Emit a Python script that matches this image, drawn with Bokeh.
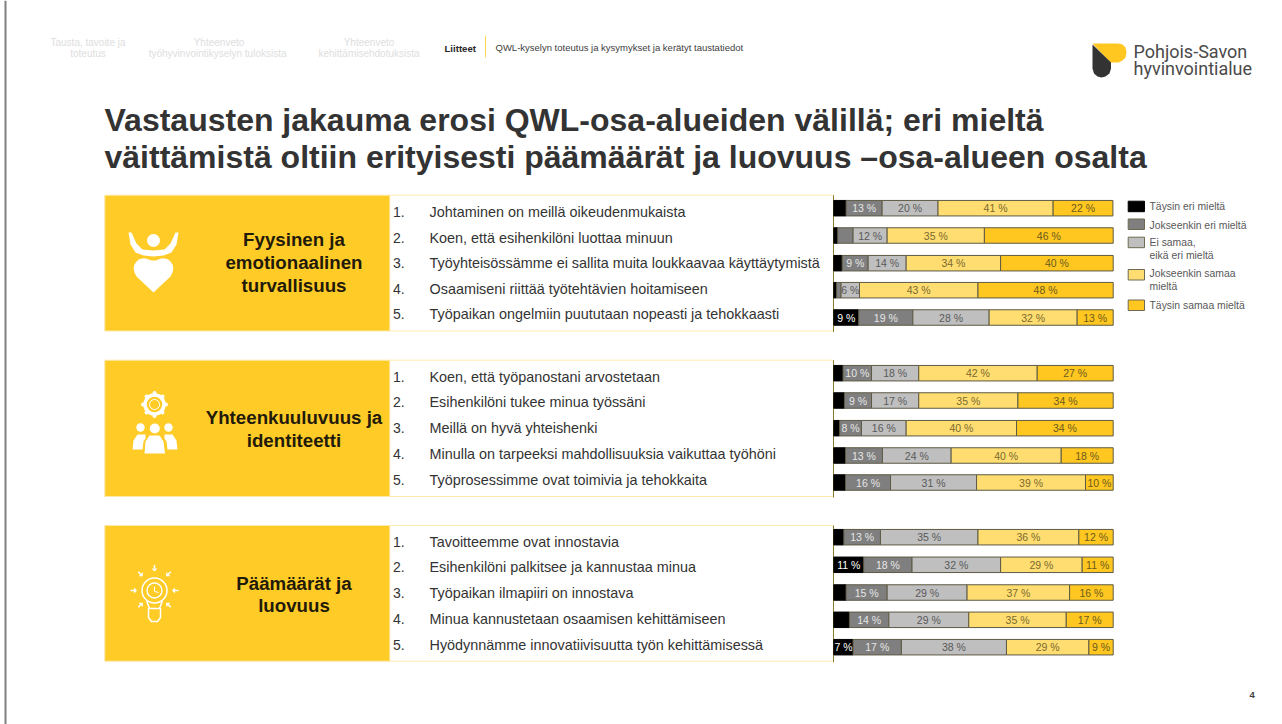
from bokeh.plotting import figure
from bokeh.models import Range1d, ColumnDataSource
from bokeh.core.properties import value
from bokeh.embed import file_html
from bokeh.resources import INLINE

W, H = 1282, 724

group_names = [["Fyysinen ja", "emotionaalinen", "turvallisuus"],
               ["Yhteenkuuluvuus ja", "identiteetti"],
               ["Päämäärät ja", "luovuus"]]

statements_1 = ["Johtaminen on meillä oikeudenmukaista", "Koen, että esihenkilöni luottaa minuun",
                "Työyhteisössämme ei sallita muita loukkaavaa käyttäytymistä",
                "Osaamiseni riittää työtehtävien hoitamiseen",
                "Työpaikan ongelmiin puututaan nopeasti ja tehokkaasti"]
statements_2 = ["Koen, että työpanostani arvostetaan", "Esihenkilöni tukee minua työssäni",
                "Meillä on hyvä yhteishenki", "Minulla on tarpeeksi mahdollisuuksia  vaikuttaa työhöni",
                "Työprosessimme  ovat toimivia ja tehokkaita"]
statements_3 = ["Tavoitteemme ovat innostavia", "Esihenkilöni palkitsee ja kannustaa minua",
                "Työpaikan ilmapiiri on innostava", "Minua kannustetaan osaamisen kehittämiseen",
                "Hyödynnämme  innovatiivisuutta työn kehittämisessä"]

values_1 = [[4.4, 12.9, 20.0, 41.2, 21.4], [1.4, 5.5, 12.2, 34.8, 46.1], [3.0, 9.3, 13.6, 33.8, 40.3],
            [1.0, 1.6, 6.6, 42.4, 48.4], [8.9, 19.4, 27.3, 31.5, 12.9]]
values_2 = [[3.3, 10.2, 16.9, 42.4, 27.2], [3.8, 9.7, 16.9, 35.5, 34.1], [2.1, 7.8, 16.0, 39.5, 34.6],
            [4.2, 13.2, 24.6, 39.4, 18.6], [4.2, 16.1, 30.8, 39.0, 9.9]]
values_3 = [[3.6, 13.1, 34.9, 36.1, 12.3], [10.7, 17.3, 31.7, 29.2, 11.1], [4.4, 14.7, 28.6, 36.7, 15.6],
            [5.6, 14.1, 28.6, 34.9, 16.8], [6.9, 17.3, 37.6, 29.5, 8.7]]

labels_1 = [[None, 13, 20, 41, 22], [None, None, 12, 35, 46], [None, 9, 14, 34, 40],
            [None, None, 6, 43, 48], [9, 19, 28, 32, 13]]
labels_2 = [[None, 10, 18, 42, 27], [None, 9, 17, 35, 34], [None, 8, 16, 40, 34],
            [None, 13, 24, 40, 18], [None, 16, 31, 39, 10]]
labels_3 = [[None, 13, 35, 36, 12], [11, 18, 32, 29, 11], [None, 15, 29, 37, 16],
            [None, 14, 29, 35, 17], [7, 17, 38, 29, 9]]

colors = ["#000000", "#7F7F7F", "#BFBFBF", "#FFDD71", "#FFC720"]
label_colors = ["#FFFFFF", "#E6E6E6", "#595959", "#7A6A2E", "#6B5A1E"]
legend_lines = [["Täysin eri mieltä"], ["Jokseenkin eri mieltä"], ["Ei samaa,", "eikä eri mieltä"],
                ["Jokseenkin samaa", "mieltä"], ["Täysin samaa mieltä"]]

FONT = value("Liberation Sans")
BAR_L, BAR_R = 833.3, 1112.7
unit = (BAR_R - BAR_L) / 100

p = figure(width=W, height=H, output_backend="svg", toolbar_location=None,
           x_range=Range1d(0, W), y_range=Range1d(H, 0), min_border=0,
           outline_line_color=None, background_fill_color="#FFFFFF")
p.axis.visible = False
p.grid.visible = False
p.extra_x_ranges["pct"] = Range1d(-BAR_L / unit, (W - BAR_L) / unit)


def txt(x, y, s, size, color="#262626", bold=False, align="left", font=FONT):
    p.text([x], [y], text=[s], text_font=font, text_font_size=f"{size}px", text_color=color,
           text_align=align, text_baseline="middle", text_font_style="bold" if bold else "normal")


def arrow(x, y, dx, dy, color="#FFFFFF"):
    nx, ny = -dy, dx
    p.line([x - dx * 2.5, x + dx], [y - dy * 2.5, y + dy], line_color=color, line_width=1.6)
    p.patch([x + dx * 4, x + dx + nx * 3, x + dx - nx * 3], [y + dy * 4, y + dy + ny * 3, y + dy - ny * 3],
            fill_color=color, line_color=None)


# page frame
p.line([5, 5], [0, H], line_color="#808080", line_width=2)

# header
for x, lines in [(87.5, ["Tausta, tavoite ja", "toteutus"]),
                 (218.5, ["Yhteenveto", "työhyvinvointikyselyn  tuloksista"]),
                 (368.5, ["Yhteenveto", "kehittämisehdotuksista"])]:
    for i, s in enumerate(lines):
        txt(x, 42 + i * 11, s, 10, "#DEDEDE", align="center")
txt(444, 47.5, "Liitteet", 9.6, "#262626", bold=True)
p.line([485, 485], [35, 57], line_color="#FFD75A", line_width=1)
txt(495, 47, "QWL-kyselyn toteutus ja kysymykset ja kerätyt taustatiedot", 9.5, "#404040")

# logo
p.patch([1092, 1118, 1122, 1125, 1126, 1125, 1122, 1118, 1110], [43, 43, 44, 47, 52, 57, 60, 62, 62],
        fill_color="#FFC720", line_color=None)
p.patch([1092, 1110.5, 1110.5, 1109, 1105, 1101, 1097, 1093.5, 1092],
        [44, 62, 68, 73, 76, 77, 76, 73, 68], fill_color="#333333", line_color=None)
txt(1133, 50.5, "Pohjois-Savon", 18, "#4A4A4A", font=value("Roboto"))
txt(1133, 68, "hyvinvointialue", 18, "#4A4A4A", font=value("Roboto"))

# title
txt(104, 119, "Vastausten jakauma erosi QWL-osa-alueiden välillä; eri mieltä", 32, "#333333", bold=True)
txt(104, 156, "väittämistä oltiin erityisesti päämäärät ja luovuus –osa-alueen osalta", 32, "#333333", bold=True)

panel_tops = [194.7, 359.7, 525.0]
panel_bottoms = [330.5, 496.0, 660.7]
bar_rows = [[207.7, 235.0, 262.7, 289.7, 317.0], [372.7, 400.0, 427.7, 455.0, 482.0], [536.7, 564.3, 592.0, 619.3, 646.7]]
text_rows = [[211, 237, 262.5, 288, 313.5], [376.5, 401.5, 427, 453, 479], [541, 566.5, 592, 618, 644]]
name_rows = [[239, 262, 285], [417, 440], [583, 605]]
all_statements = [statements_1, statements_2, statements_3]
all_values = [values_1, values_2, values_3]
all_labels = [labels_1, labels_2, labels_3]

for g in range(3):
    t, b = panel_tops[g], panel_bottoms[g]
    p.quad(left=[389], right=[833], top=[t], bottom=[b], fill_color="#FFFFFF", line_color="#FFEBB0", line_width=1)
    p.quad(left=[104.3], right=[389.3], top=[t], bottom=[b], fill_color="#FFCB27", line_color="#FFE9A8", line_width=1)
    p.line([833, 833], [t, b + 1], line_color="#8A7A2A", line_width=1)
    for s, y in zip(name_rows[g], group_names[g]):
        txt(293.5, s, y, 18.7, "#1F1A0A", bold=True, align="center")
    for i in range(5):
        txt(392.5, text_rows[g][i], f"{i + 1}.", 14, "#333333")
        txt(429, text_rows[g][i], all_statements[g][i], 14.4, "#333333")
        left = 0.0
        for k in range(5):
            v = all_values[g][i][k]
            src = ColumnDataSource(dict(y=[bar_rows[g][i]], l=[left], r=[left + v]))
            p.hbar(y="y", left="l", right="r", height=15.5, source=src, x_range_name="pct",
                   fill_color=colors[k], line_color="#5E5A45" if k else "#000000", line_width=1)
            lab = all_labels[g][i][k]
            if lab is not None:
                p.text([left + v / 2], [bar_rows[g][i]], text=[f"{lab} %"], x_range_name="pct", text_font=FONT,
                       text_font_size="10.5px", text_color=label_colors[k], text_align="center",
                       text_baseline="middle")
            left += v

# legend
swatch_tops = [200.7, 218.5, 236.7, 269.0, 299.5]
text_ys = [[206], [224.5], [242, 254.5], [273, 286], [304.5]]
for k in range(5):
    p.quad(left=[1127.7], right=[1144], top=[swatch_tops[k]], bottom=[swatch_tops[k] + 10.5],
           fill_color=colors[k], line_color="#6E6A50" if k else "#000000", line_width=1)
    for s, y in zip(legend_lines[k], text_ys[k]):
        txt(1149, y, s, 10.4, "#595959")

WHITE = "#FFFFFF"
# icon 1: person + heart
p.circle([153], [240], radius=6.5, fill_color=WHITE, line_color=None)
p.patch([128, 131, 136, 142, 153, 164, 170, 175, 178, 176, 171, 163, 153, 143, 135, 130],
        [232, 232, 243, 249, 250, 249, 243, 232, 232, 244, 252, 255, 256, 255, 252, 244], fill_color=WHITE, line_color=None)
p.circle([143.5, 162.5], [268, 268], radius=10.3, fill_color=WHITE, line_color=None)
p.patch([133.8, 136, 153, 170, 172.2, 168, 153, 138], [271, 276, 292, 276, 271, 259, 260, 259],
        fill_color=WHITE, line_color=None)

# icon 2: gear + people
p.circle([154], [404], radius=9.5, fill_color=None, line_color=WHITE, line_width=3.5)
p.circle([154], [404], radius=5, fill_color=None, line_color=WHITE, line_width=1)
for dx, dy in [(0, -11.5), (0, 11.5), (-11.5, 0), (11.5, 0), (-8, -8), (8, -8), (-8, 8), (8, 8)]:
    p.circle([154 + dx], [404 + dy], radius=2, fill_color=WHITE, line_color=None)
for cx, cy, r in [(140, 427, 4.2), (154.3, 428, 5), (168, 427, 4.2)]:
    p.circle([cx], [cy], radius=r, fill_color=WHITE, line_color=None)
p.patch([132, 133, 137, 145, 145, 143, 142, 132], [449, 440, 434, 434, 438, 441, 449, 449], fill_color=WHITE, line_color=None)
p.patch([177, 176, 172, 164, 164, 166, 167, 177], [449, 440, 434, 434, 438, 441, 449, 449], fill_color=WHITE, line_color=None)
p.patch([144, 145, 149, 159, 163, 164.5, 164.5, 144], [453, 441, 435, 435, 441, 453, 453, 453], fill_color=WHITE, line_color=None)

# icon 3: bulb
p.circle([154], [590], radius=12.5, fill_color=None, line_color=WHITE, line_width=1.5)
p.circle([154], [590], radius=7.5, fill_color=None, line_color=WHITE, line_width=1.4)
p.line([154, 154, 158], [586, 591, 592], line_color=WHITE, line_width=1)
p.patch([148, 160, 160, 157, 151, 148], [608, 608, 617, 621, 621, 617], fill_color=None, line_color=WHITE, line_width=1.5)
p.line([146, 149], [600, 608], line_color=WHITE, line_width=1.5)
p.line([162, 159], [600, 608], line_color=WHITE, line_width=1.5)
for x0, y0, dx, dy in [(154, 567, 0, 1), (139.5, 573, 0.7, 0.7), (168.5, 573, -0.7, 0.7), (132.5, 590, 1, 0),
                       (175.5, 590, -1, 0), (139.5, 605, 0.7, -0.7), (168.5, 605, -0.7, -0.7)]:
    arrow(x0, y0, dx, dy)

txt(1249, 694, "4", 9.5, "#404040", bold=True)

open("out.html", "w").write(file_html(p, INLINE))
